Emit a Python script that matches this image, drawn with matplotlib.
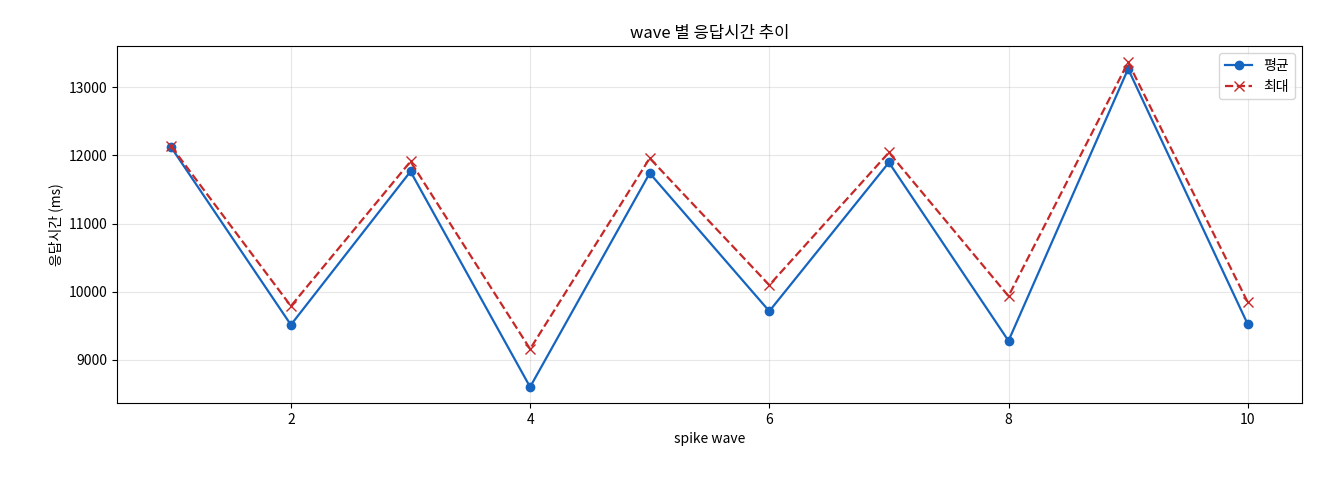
import matplotlib
matplotlib.use("Agg")
import matplotlib.pyplot as plt

plt.rcParams['font.family'] = ['Noto Sans CJK KR', 'DejaVu Sans']

waves = [1, 2, 3, 4, 5, 6, 7, 8, 9, 10]
mean_ms = [12117, 9515, 11765, 8603, 11740, 9715, 11897, 9280, 13270, 9525]
max_ms = [12132, 9790, 11912, 9160, 11960, 10098, 12044, 9936, 13367, 9848]

fig, ax = plt.subplots(figsize=(13.2, 4.8), dpi=100)
ax.plot(waves, mean_ms, '-o', color='#1565c0', label='평균', markersize=6, linewidth=1.6)
ax.plot(waves, max_ms, '--x', color='#c62828', label='최대', markersize=7, linewidth=1.6)
ax.set_title('wave 별 응답시간 추이')
ax.set_xlabel('spike wave')
ax.set_ylabel('응답시간 (ms)')
ax.grid(True, alpha=0.3)
ax.legend(loc='upper right')
fig.subplots_adjust(left=0.089, right=0.986, top=0.904, bottom=0.16)
fig.savefig('out.png')
